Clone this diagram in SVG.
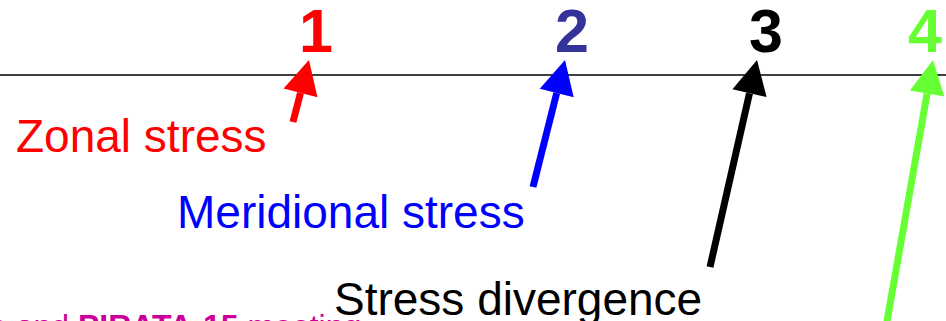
<svg xmlns="http://www.w3.org/2000/svg" width="946" height="321" viewBox="0 0 946 321">
<style>
.num{font-family:"Liberation Sans",Arial,sans-serif;font-weight:bold;font-size:61px;text-anchor:middle}
.lbl{font-family:"Liberation Sans",Arial,sans-serif;font-size:46px}
.shaft{stroke-width:7;fill:none}
.foot{font-family:"Liberation Sans",Arial,sans-serif;font-size:32px;fill:#CC0099}
</style>
<defs>
<marker id="hr" markerUnits="userSpaceOnUse" markerWidth="36" markerHeight="36" refX="0" refY="17.5" orient="auto" overflow="visible"><path d="M0,0 L34,17.5 L0,35 z" fill="#FF0000"/></marker>
<marker id="hb" markerUnits="userSpaceOnUse" markerWidth="36" markerHeight="36" refX="0" refY="17.5" orient="auto" overflow="visible"><path d="M0,0 L34,17.5 L0,35 z" fill="#0000FF"/></marker>
<marker id="hk" markerUnits="userSpaceOnUse" markerWidth="36" markerHeight="36" refX="0" refY="17.5" orient="auto" overflow="visible"><path d="M0,0 L34,17.5 L0,35 z" fill="#000000"/></marker>
<marker id="hg" markerUnits="userSpaceOnUse" markerWidth="36" markerHeight="36" refX="0" refY="17.5" orient="auto" overflow="visible"><path d="M0,0 L34,17.5 L0,35 z" fill="#66FF33"/></marker>
</defs>
<rect width="946" height="321" fill="#FFFFFF"/>
<line id="axis" x1="0" y1="75" x2="946" y2="75" stroke="#000" stroke-width="1.5"/>
<g id="n1"><text class="num" x="316" y="52" fill="#FF0000">1</text></g>
<g id="n2"><text class="num" x="572" y="52" fill="#333399">2</text></g>
<g id="n3"><text class="num" x="766" y="52" fill="#000000">3</text></g>
<g id="n4"><text class="num" x="925" y="52" fill="#66FF33">4</text></g>
<g id="zonal"><text class="lbl" x="16" y="152" fill="#FF0000">Zonal stress</text></g>
<g id="meridional"><text class="lbl" x="177" y="228" fill="#0000FF">Meridional stress</text></g>
<g id="divergence"><text class="lbl" x="334" y="315" fill="#000000">Stress divergence</text></g>
<g id="footer"><text class="foot" x="-11" y="337">e and <tspan font-weight="bold">PIRATA-15</tspan> meeting</text></g>
<g id="connectors">
<line class="shaft" x1="293" y1="122" x2="300.5" y2="92.9" stroke="#FF0000" marker-end="url(#hr)"/>
<line class="shaft" x1="533" y1="187" x2="556.7" y2="93" stroke="#0000FF" marker-end="url(#hb)"/>
<line class="shaft" x1="710" y1="267" x2="749.5" y2="93.2" stroke="#000000" marker-end="url(#hk)"/>
<line class="shaft" x1="883.7" y1="340" x2="927.1" y2="93.5" stroke="#66FF33" marker-end="url(#hg)"/>
</g>
</svg>
